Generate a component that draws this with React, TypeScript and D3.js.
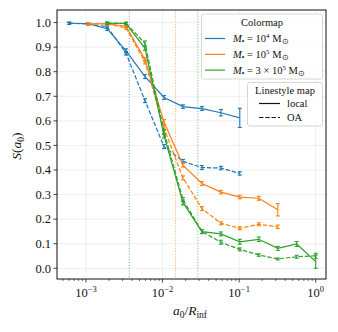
import React from "react";
import * as d3 from "d3";

const xs = [6.03e-4, 1.067e-3, 1.888e-3, 3.334e-3, 5.9e-3, 1.045e-2, 1.845e-2, 3.266e-2, 5.78e-2, 0.102, 0.1807, 0.3199, 0.5649, 1.0];

// M = 1e4 (indices 0..9)
const blueLocal = [0.997, 0.995, 0.975, 0.885, 0.78, 0.695, 0.658, 0.65, 0.633, 0.612];
const blueLocalErr = [0.005, 0.005, 0.007, 0.008, 0.008, 0.008, 0.007, 0.008, 0.013, 0.039];
const blueOA = [0.997, 0.994, 0.983, 0.875, 0.682, 0.495, 0.435, 0.41, 0.408, 0.386];
const blueOAErr = [0.004, 0.004, 0.005, 0.007, 0.008, 0.008, 0.008, 0.008, 0.007, 0.007];

// M = 1e5 (indices 1..11)
const orangeLocal = [0.995, 0.995, 0.985, 0.85, 0.595, 0.42, 0.345, 0.31, 0.29, 0.285, 0.238];
const orangeLocalErr = [0.005, 0.005, 0.006, 0.008, 0.01, 0.008, 0.008, 0.007, 0.007, 0.008, 0.025];
const orangeOA = [0.995, 0.994, 0.978, 0.84, 0.57, 0.368, 0.243, 0.183, 0.163, 0.179, 0.169];
const orangeOAErr = [0.004, 0.004, 0.005, 0.008, 0.01, 0.008, 0.008, 0.006, 0.006, 0.006, 0.007];

// M = 3e5 (indices 2..13)
const greenLocal = [0.997, 0.996, 0.895, 0.54, 0.268, 0.149, 0.14, 0.108, 0.118, 0.081, 0.099, 0.027];
const greenLocalErr = [0.005, 0.005, 0.008, 0.01, 0.01, 0.008, 0.008, 0.01, 0.009, 0.008, 0.01, 0.027];
const greenOA = [0.998, 0.997, 0.915, 0.555, 0.28, 0.15, 0.106, 0.077, 0.054, 0.038, 0.047, 0.051];
const greenOAErr = [0.004, 0.004, 0.01, 0.01, 0.008, 0.008, 0.008, 0.006, 0.005, 0.004, 0.006, 0.01];

const vlines = [3.67e-3, 1.48e-2, 2.89e-2];
const xTicks = [1e-3, 1e-2, 1e-1, 1];
const xTickExp = ["−3", "−2", "−1", "0"];
const yTicks = [0, 0.1, 0.2, 0.3, 0.4, 0.5, 0.6, 0.7, 0.8, 0.9, 1.0];

const colors = ["#1f77b4", "#ff7f0e", "#2ca02c"];
const massExp = ["4", "5", "5"];
const massPre = ["", "", "3 × "];

const W = 338, H = 332;
const L = 57, R = 326, T = 10, B = 279;
const FONT = "Liberation Serif";

type Series = { start: number; y: number[]; err: number[]; color: string; dashed: boolean };

const series: Series[] = [
  { start: 0, y: blueLocal, err: blueLocalErr, color: colors[0], dashed: false },
  { start: 0, y: blueOA, err: blueOAErr, color: colors[0], dashed: true },
  { start: 1, y: orangeLocal, err: orangeLocalErr, color: colors[1], dashed: false },
  { start: 1, y: orangeOA, err: orangeOAErr, color: colors[1], dashed: true },
  { start: 2, y: greenLocal, err: greenLocalErr, color: colors[2], dashed: false },
  { start: 2, y: greenOA, err: greenOAErr, color: colors[2], dashed: true },
];

export default function App() {
  const x = d3.scaleLog().domain([Math.pow(10, -3.3786), Math.pow(10, 0.1345)]).range([L, R]);
  const y = d3.scaleLinear().domain([-0.0435, 1.051]).range([B, T]);
  const line = d3.line<[number, number]>().x((d) => x(d[0])).y((d) => y(d[1]));

  const minor: number[] = [];
  for (let e = -4; e <= 0; e++) {
    for (let m = 2; m <= 9; m++) {
      const v = m * Math.pow(10, e);
      const px = x(v);
      if (px >= L && px <= R) minor.push(v);
    }
  }

  return (
    <svg width={W} height={H} style={{ position: "absolute", left: 0, top: 0, background: "white" }}>
      <rect x={0} y={0} width={W} height={H} fill="white" />
      {/* grid */}
      {xTicks.map((t, i) => (
        <line key={"gx" + i} x1={x(t)} x2={x(t)} y1={T} y2={B} stroke="#b0b0b0" strokeOpacity={0.25} strokeWidth={0.8} />
      ))}
      {yTicks.map((t, i) => (
        <line key={"gy" + i} x1={L} x2={R} y1={y(t)} y2={y(t)} stroke="#b0b0b0" strokeOpacity={0.25} strokeWidth={0.8} />
      ))}
      {/* vertical dotted lines */}
      {vlines.map((v, i) => (
        <line key={"vl" + i} x1={x(v)} x2={x(v)} y1={T} y2={B} stroke={colors[i]} strokeOpacity={0.6} strokeWidth={1} strokeDasharray="1.2,1.6" />
      ))}
      {/* series */}
      {series.map((s, si) => {
        const pts: [number, number][] = s.y.map((v, i) => [xs[s.start + i], v]);
        return (
          <g key={"s" + si}>
            <path d={line(pts) || ""} fill="none" stroke={s.color} strokeWidth={1.2} strokeDasharray={s.dashed ? "4.4,1.9" : undefined} />
            {pts.map((p, i) => {
              const px = x(p[0]);
              const y1 = y(p[1] - s.err[i]);
              const y2 = y(p[1] + s.err[i]);
              return (
                <g key={i} stroke={s.color} strokeWidth={1.1}>
                  <line x1={px} x2={px} y1={y1} y2={y2} />
                  <line x1={px - 2} x2={px + 2} y1={y1} y2={y1} />
                  <line x1={px - 2} x2={px + 2} y1={y2} y2={y2} />
                </g>
              );
            })}
          </g>
        );
      })}
      {/* spines */}
      <rect x={L} y={T} width={R - L} height={B - T} fill="none" stroke="#111" strokeWidth={1} />
      <g fontFamily={FONT} fill="#111">
        {/* x ticks */}
        {xTicks.map((t, i) => (
          <g key={"xt" + i}>
            <line x1={x(t)} x2={x(t)} y1={B} y2={B + 3.5} stroke="#111" strokeWidth={0.8} />
            <text x={x(t)} y={B + 18} textAnchor="middle" fontSize={12.5}>
              10<tspan fontSize={8.5} dy={-5.5}>{xTickExp[i]}</tspan>
            </text>
          </g>
        ))}
        {minor.map((t, i) => (
          <line key={"mt" + i} x1={x(t)} x2={x(t)} y1={B} y2={B + 2} stroke="#111" strokeWidth={0.6} />
        ))}
        {/* y ticks */}
        {yTicks.map((t, i) => (
          <g key={"yt" + i}>
            <line x1={L - 3.5} x2={L} y1={y(t)} y2={y(t)} stroke="#111" strokeWidth={0.8} />
            <text x={L - 6} y={y(t)} dy="0.34em" textAnchor="end" fontSize={12.5}>
              {t.toFixed(1)}
            </text>
          </g>
        ))}
        {/* axis labels */}
        <text x={190} y={315} textAnchor="middle" fontSize={13.5}>
          <tspan fontStyle="italic">a</tspan>
          <tspan fontSize={9.5} dy={2.5}>0</tspan>
          <tspan dy={-2.5}>/</tspan>
          <tspan fontStyle="italic">R</tspan>
          <tspan fontSize={9.5} dy={2.5}>inf</tspan>
        </text>
        <text transform="translate(21,146) rotate(-90)" textAnchor="middle" fontSize={13.5}>
          <tspan fontStyle="italic">S</tspan>
          <tspan>(</tspan>
          <tspan fontStyle="italic">a</tspan>
          <tspan fontSize={9.5} dy={2.5}>0</tspan>
          <tspan dy={-2.5}>)</tspan>
        </text>
        {/* legend 1 */}
        <rect x={201.5} y={14} width={121} height={65} rx={2} fill="white" fillOpacity={0.85} stroke="#cccccc" strokeWidth={0.8} />
        <text x={262} y={25.5} textAnchor="middle" fontSize={10.5}>Colormap</text>
        {colors.map((c, i) => {
          const ly = 38.5 + i * 15.8;
          return (
            <g key={"lg" + i}>
              <line x1={205} x2={225} y1={ly} y2={ly} stroke={c} strokeWidth={1.2} />
              <text x={233} y={ly} dy="0.33em" fontSize={10.5}>
                <tspan fontStyle="italic">M</tspan>
                <tspan fontSize={7.5} dy={2}>•</tspan>
                <tspan dy={-2}>{" = " + massPre[i] + "10"}</tspan>
                <tspan fontSize={7} dy={-4}>{massExp[i]}</tspan>
                <tspan dy={4}>{" M"}</tspan>
                <tspan fontSize={7.5} dy={2}>⊙</tspan>
              </text>
            </g>
          );
        })}
        {/* legend 2 */}
        <rect x={247.5} y={82.5} width={75} height={43.5} rx={2} fill="white" fillOpacity={0.85} stroke="#cccccc" strokeWidth={0.8} />
        <text x={285} y={93.5} textAnchor="middle" fontSize={10.5}>Linestyle map</text>
        <line x1={259} x2={280} y1={103.5} y2={103.5} stroke="#111" strokeWidth={1.2} />
        <text x={287} y={103.5} dy="0.33em" fontSize={10.5}>local</text>
        <line x1={259} x2={280} y1={117.5} y2={117.5} stroke="#111" strokeWidth={1.2} strokeDasharray="4.4,1.9" />
        <text x={287} y={117.5} dy="0.33em" fontSize={10.5}>OA</text>
      </g>
    </svg>
  );
}
